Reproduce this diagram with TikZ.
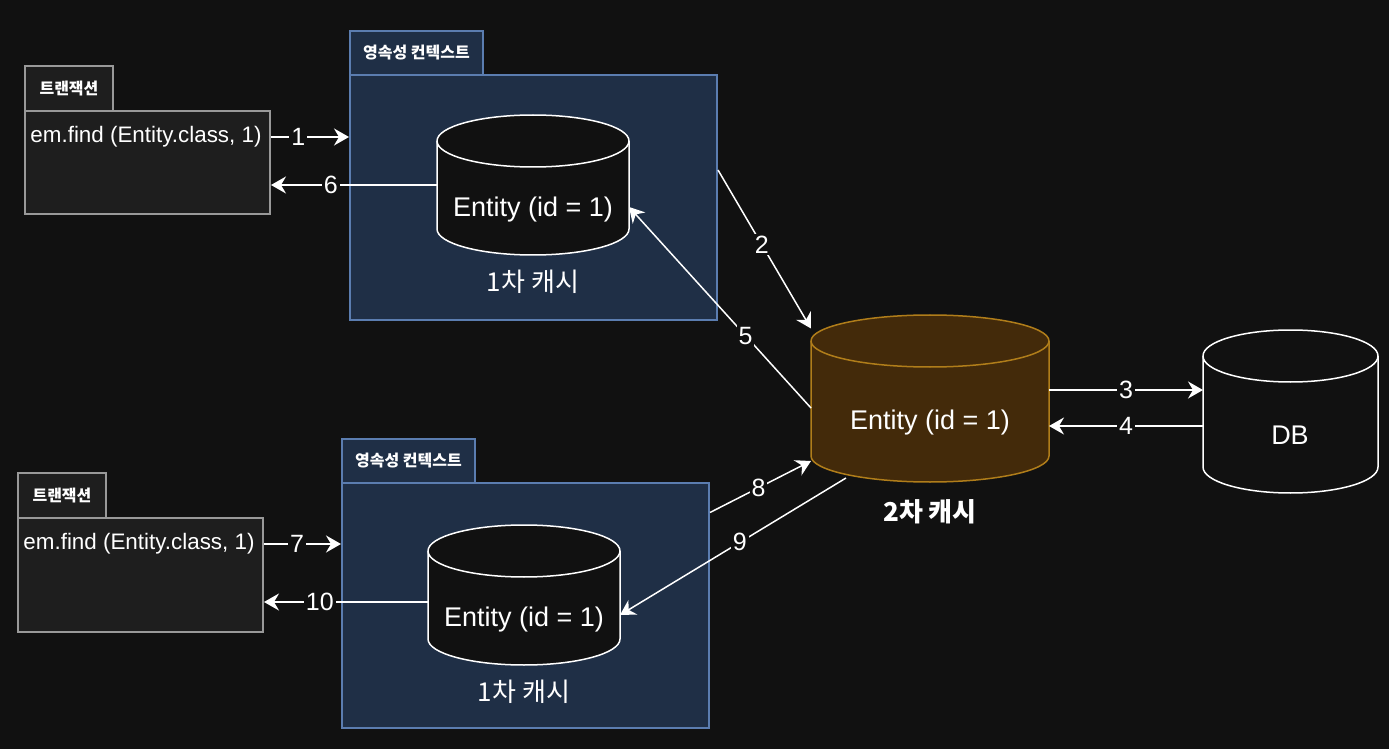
\documentclass[tikz,border=0pt]{standalone}
\usepackage{fontspec}
\setmainfont{Liberation Sans}
\newfontfamily\kor{Noto Sans CJK KR}
\usetikzlibrary{positioning, arrows.meta, calc}

\definecolor{bg}{HTML}{111111}
\definecolor{txfill}{HTML}{1E1E1E}
\definecolor{txline}{HTML}{999999}
\definecolor{pcfill}{HTML}{1F2F46}
\definecolor{pcline}{HTML}{5B7DB0}
\definecolor{l2fill}{HTML}{432A0A}
\definecolor{l2line}{HTML}{B07D1A}

\begin{document}
\begin{tikzpicture}[
        x=0.5pt, y=-0.5pt,
        >={Stealth[length=7.5pt, width=8.5pt, inset=2.5pt]},
        color=white,
        line width=0.75pt,
        tab/.style={draw, anchor=north west, inner sep=0pt, line width=1pt, font=\kor\bfseries\fontsize{8}{10}\selectfont},
        box/.style={draw, anchor=north west, inner sep=0pt, line width=1pt},
        tx/.style={fill=txfill, draw=txline},
        pc/.style={fill=pcfill, draw=pcline},
        code/.style={font=\fontsize{11.2}{13}\selectfont},
        cylbox/.style={rectangle, inner sep=0pt, outer sep=0pt},
        ent/.style={font=\fontsize{13.5}{16}\selectfont},
        cachecap/.style={font=\kor\fontsize{13}{16}\selectfont},
        num/.style={fill=bg, inner sep=1pt, font=\fontsize{12.5}{14}\selectfont},
    ]

        % Background and frame
        \fill[bg] (0,0) rectangle (1389,749);

        % Draw the transactions
        \foreach \name / \x / \y / \h in {1/24/65/51.5, 2/17/472/57} {
            \node[tab, tx, minimum width=44pt, minimum height=22.5pt] (T\name-tab) at (\x,\y) {트랜잭션};
            \node[box, tx, minimum width=122.5pt, minimum height=\h pt] (T\name) at (\x,\y+45) {};
            \node[code] (T\name-text) at (\x+122,\y+72) {em.find (Entity.class, 1)};
        }

        % Draw the persistence contexts
        \foreach \name / \x / \y in {1/349/30, 2/341/438} {
            \node[tab, pc, minimum width=66.5pt, minimum height=22pt] (P\name-tab) at (\x,\y) {영속성 컨텍스트};
            \node[box, pc, minimum width=183.5pt, minimum height=122.5pt] (P\name) at (\x,\y+44) {};
        }

        % Place the caches and the DB
        \node[cylbox, minimum width=96pt, minimum height=70pt] (C1) at (533,185) {};
        \node[cylbox, minimum width=96pt, minimum height=70pt] (C2) at (524,595) {};
        \node[cylbox, minimum width=119pt, minimum height=83.5pt] (L2) at (930,398.5) {};
        \node[cylbox, minimum width=87.5pt, minimum height=81.5pt] (DB) at (1290.5,411.5) {};

        % Draw the cylinders
        \foreach \n / \rx / \f / \d in {C1/48/bg/white, C2/48/bg/white, L2/59.5/l2fill/l2line, DB/43.75/bg/white} {
            \path[fill=\f, draw=\d] ([yshift=-13pt]\n.north west) -- ([yshift=13pt]\n.south west)
                arc[start angle=180, end angle=360, x radius=\rx pt, y radius=13pt]
                -- ([yshift=-13pt]\n.north east)
                arc[start angle=0, end angle=180, x radius=\rx pt, y radius=13pt] -- cycle;
            \draw[draw=\d] ([yshift=-13pt]\n.north west)
                arc[start angle=180, end angle=360, x radius=\rx pt, y radius=13pt];
        }

        % Texts of the caches
        \foreach \name / \x / \y in {1/533/185, 2/524/595} {
            \node[ent] (C\name-text) at (\x,\y+25) {Entity (id = 1)};
            \node[cachecap] (C\name-cap) at (\x,\y+97) {1차 캐시};
        }
        \node[ent] (L2-text) at (930,423) {Entity (id = 1)};
        \node[cachecap, font=\kor\bfseries\fontsize{13}{16}\selectfont] (L2-cap) at (930,512) {2차 캐시};
        \node[ent] (DB-text) at (1290,435) {DB};

        % Connect the transactions with the caches
        \draw[->] (T1-text -| T1.east) -- (T1-text -| P1.west) node[num, pos=0.35] {1};
        \draw[->] ([yshift=13.75pt]P1.east) -- ([yshift=35pt]L2.west) node[num, pos=0.47] {2};
        \draw[->] ([yshift=4.25pt]L2.east) -- ([yshift=4.25pt]L2.east -| DB.west) node[num, midway] {3};
        \draw[->] ([yshift=-7.25pt]DB.west) -- ([yshift=-7.25pt]DB.west -| L2.east) node[num, midway] {4};
        \draw[->] ([yshift=-4.75pt]L2.west) -- ([yshift=-11pt]C1.east) node[num, pos=0.36] {5};
        \draw[->] (C1.west) -- (C1.west -| T1.east) node[num, pos=0.64] {6};

        \draw[->] (T2-text -| T2.east) -- (T2-text -| P2.west) node[num, pos=0.43] {7};
        \draw[->] ([yshift=46.5pt]P2.east) -- ([yshift=-31.25pt]L2.west) node[num, pos=0.48] {8};
        \draw[->] ([xshift=-42pt, yshift=2pt]L2.south) -- ([yshift=-10pt]C2.east) node[num, pos=0.47] {9};
        \draw[->] ([yshift=-3.5pt]C2.west) -- ([yshift=-3.5pt]C2.west -| T2.east) node[num, pos=0.66] {10};
\end{tikzpicture}
\end{document}
